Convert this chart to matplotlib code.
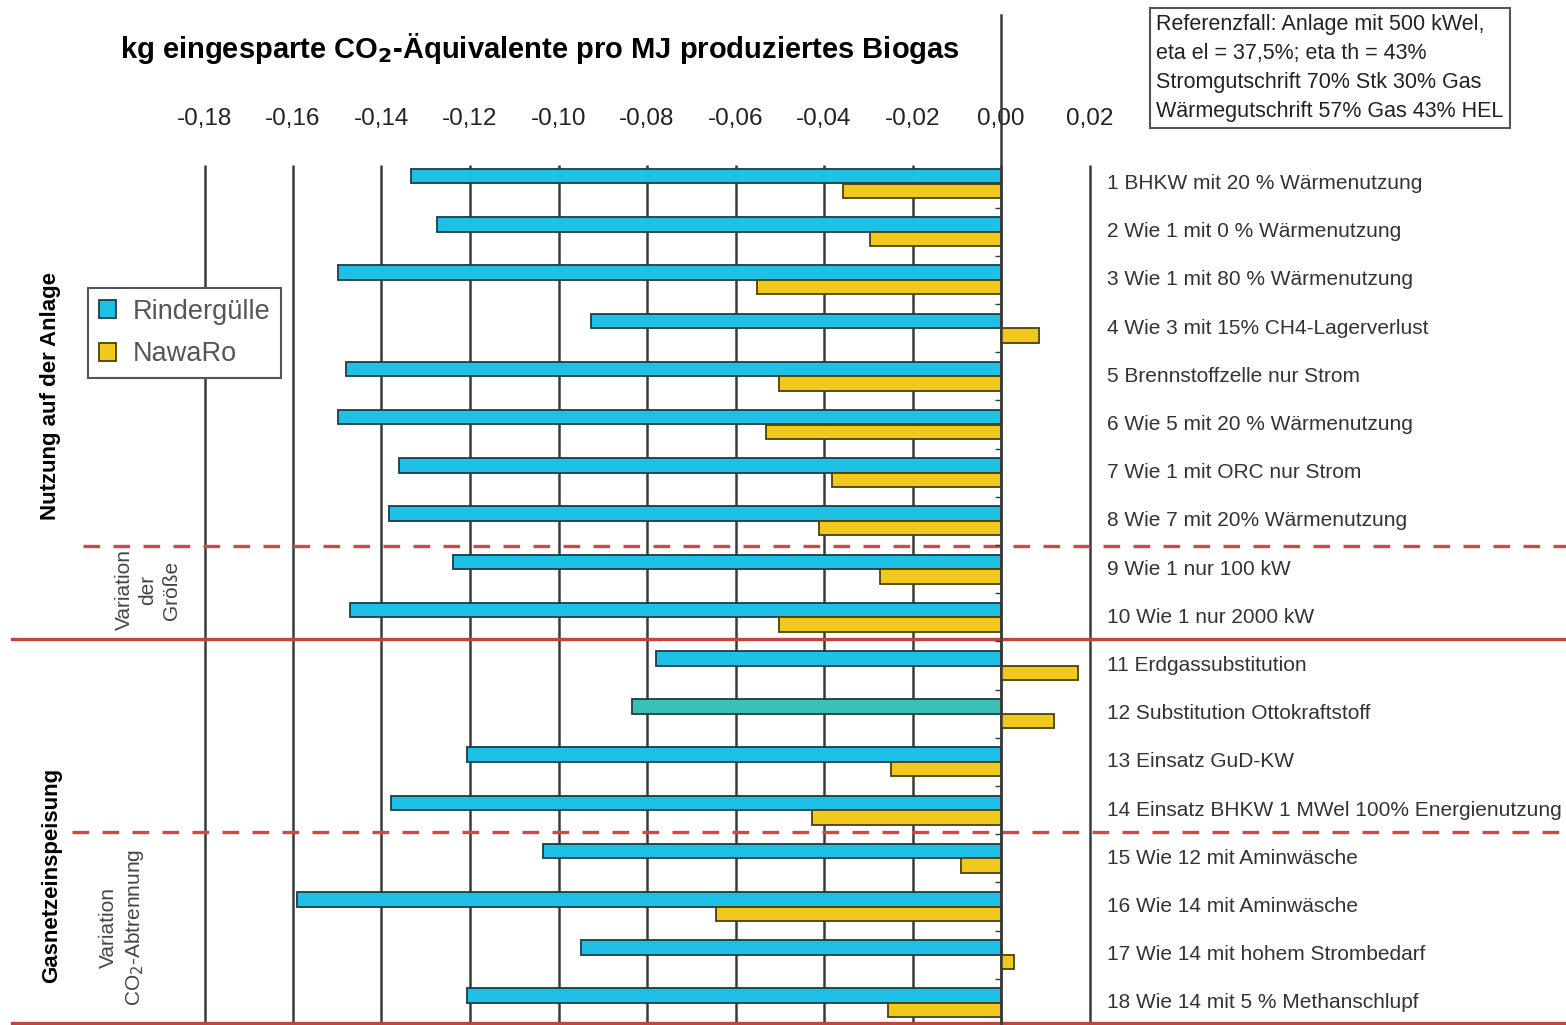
import matplotlib
matplotlib.use("Agg")
import matplotlib.pyplot as plt
import numpy as np

plt.rcParams['font.family'] = ['Liberation Sans', 'DejaVu Sans']

# data (kg CO2-eq saved per MJ biogas)
labels = [
    "1 BHKW mit 20 % Wärmenutzung",
    "2 Wie 1 mit 0 % Wärmenutzung",
    "3 Wie 1 mit 80 % Wärmenutzung",
    "4 Wie 3 mit 15% CH4-Lagerverlust",
    "5 Brennstoffzelle nur Strom",
    "6 Wie 5 mit 20 % Wärmenutzung",
    "7 Wie 1 mit ORC nur Strom",
    "8 Wie 7 mit 20% Wärmenutzung",
    "9 Wie 1 nur 100 kW",
    "10 Wie 1 nur 2000 kW",
    "11 Erdgassubstitution",
    "12 Substitution Ottokraftstoff",
    "13 Einsatz GuD-KW",
    "14 Einsatz BHKW 1 MWel 100% Energienutzung",
    "15 Wie 12 mit Aminwäsche",
    "16 Wie 14 mit Aminwäsche",
    "17 Wie 14 mit hohem Strombedarf",
    "18 Wie 14 mit 5 % Methanschlupf",
]
rindergulle = [-0.1334, -0.1274, -0.1498, -0.0927, -0.1480, -0.1498, -0.1360, -0.1383, -0.1239,
               -0.1471, -0.0780, -0.0835, -0.1206, -0.1379, -0.1034, -0.1590, -0.0950, -0.1207]
nawaro = [-0.0358, -0.0296, -0.0551, 0.0087, -0.0501, -0.0530, -0.0381, -0.0411, -0.0273,
          -0.0501, 0.0173, 0.0120, -0.0249, -0.0426, -0.0091, -0.0645, 0.0030, -0.0255]
xticks = [-0.18, -0.16, -0.14, -0.12, -0.10, -0.08, -0.06, -0.04, -0.02, 0.00, 0.02]
solid_sep = [9.46, 17.42]
dashed_sep = [7.52, 13.45]

blue = '#1fc0e6'
teal = '#3cbfb6'
yellow = '#f1c81c'

W, H = 1566, 1025
fig = plt.figure(figsize=(W / 100, H / 100), dpi=100)

# pixel geometry of the reference
x0_px, px_per_unit = 1001, 4425.0
row0_px, row_pitch = 183.5, 48.2
top_px = 165

def px2x(px):
    return (px - x0_px) / px_per_unit

def py2row(py):
    return (py - row0_px) / row_pitch

ax = fig.add_axes([0, 0, 1, (H - top_px) / H])
ax.set_xlim(px2x(0), px2x(W))
ax.set_ylim(py2row(H), py2row(top_px))
for s in ax.spines.values():
    s.set_visible(False)

n = len(labels)
y = np.arange(n)
h = 0.30
bcols = [blue] * n
bcols[11] = teal
ax.barh(y - h / 2, rindergulle, height=h, color=bcols, edgecolor='#1b3d47', linewidth=1.3,
        zorder=3, label='Rindergülle')
ax.barh(y + h / 2, nawaro, height=h, color=yellow, edgecolor='#4d3f0c', linewidth=1.3,
        zorder=3, label='NawaRo')

# vertical grid
ymin, ymax = py2row(H), py2row(top_px)
ax.vlines(xticks, ymax, ymin, color='#3a3a3a', lw=1.8, zorder=1)
ax.plot([0, 0], [ymin, py2row(15)], color='#3a3a3a', lw=1.8, zorder=4, clip_on=False)
ax.plot(np.zeros(n + 1), np.arange(n + 1) - 0.5, ls='none', marker=0, ms=4,
        color='#3a3a3a', zorder=4)

# separators
for yy in solid_sep:
    ax.plot([px2x(12), px2x(W)], [yy, yy], color='#c5433a', lw=2.4, zorder=2, clip_on=False)
for yy, xs in zip(dashed_sep, [83, 72]):
    ax.plot([px2x(xs), px2x(W)], [yy, yy], color='#cf4a44', lw=2.4, dashes=(5, 4),
            zorder=2, clip_on=False)

# ticks on top
ax.xaxis.tick_top()
ax.set_xticks(xticks)
ax.set_xticklabels([f"{t:.2f}".replace('.', ',') for t in xticks], fontsize=17.5, color='#222')
ax.tick_params(axis='x', length=0, pad=25)
ax.set_yticks([])

# category labels on the right
for i, lab in enumerate(labels):
    ax.text(px2x(1107), i, lab, va='center', ha='left', fontsize=15, color='#333')

# group labels
fig.text(51 / W, 1 - 396 / H, "Nutzung auf der Anlage", rotation=90, fontsize=16,
         fontweight='bold', ha='center', va='center')
fig.text(52 / W, 1 - 875 / H, "Gasnetzeinspeisung", rotation=90, fontsize=16,
         fontweight='bold', ha='center', va='center')
fig.text(148 / W, 1 - 590 / H, "Variation\nder\nGröße", rotation=90, fontsize=15,
         ha='center', va='center', color='#444', linespacing=1.3)
fig.text(122 / W, 1 - 927 / H, "Variation\nCO$_2$-Abtrennung", rotation=90, fontsize=15,
         ha='center', va='center', color='#444', linespacing=1.3)

# title
fig.text(540 / W, 1 - 48 / H, "kg eingesparte CO$_\\mathbf{2}$-Äquivalente pro MJ produziertes Biogas",
         fontsize=21, fontweight='bold', ha='center', va='center')

# reference box
fig.text(1156 / W, 1 - 68 / H,
         "Referenzfall: Anlage mit 500 kWel,\neta el = 37,5%; eta th = 43%\n"
         "Stromgutschrift 70% Stk 30% Gas\nWärmegutschrift 57% Gas 43% HEL",
         fontsize=15.5, ha='left', va='center', color='#222', linespacing=1.5,
         bbox=dict(boxstyle='square,pad=0.3', fc='white', ec='#555', lw=1.5))

# legend
leg = fig.legend(loc='upper left', bbox_to_anchor=(88 / W, 1 - 288 / H), fontsize=19.5,
                 frameon=True, fancybox=False, framealpha=1, edgecolor='#555',
                 handlelength=0.65, handleheight=0.65, handletextpad=0.6, labelspacing=0.6,
                 borderpad=0.4, borderaxespad=0, labelcolor='#555')
leg.get_frame().set_linewidth(1.5)
leg.legend_handles[0].set_facecolor(blue)

fig.savefig('out.png', dpi=100)
